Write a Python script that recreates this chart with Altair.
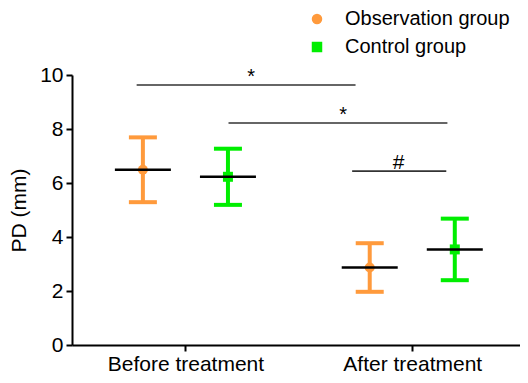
import altair as alt
import pandas as pd

categories = ["Before treatment", "After treatment"]
groups = ["Observation group", "Control group"]
obs_mean = [6.49, 2.87]
obs_sd = [1.20, 0.90]
ctrl_mean = [6.23, 3.54]
ctrl_sd = [1.04, 1.14]
cat_pos = [1, 3]
group_offset = [-0.375, 0.375]
colors = ["#FF9A3C", "#00EE00"]
shapes = ["circle", "square"]

bracket_start = [0.57, 1.38, 2.47]
bracket_end = [2.50, 3.31, 3.30]
bracket_y = [9.63, 8.22, 6.44]
bracket_label = ["*", "*", "#"]
bracket_label_x = [1.58, 2.39, 2.88]
bracket_font = [20, 20, 21]

means = [obs_mean, ctrl_mean]
sds = [obs_sd, ctrl_sd]
rows = []
for ci, cat in enumerate(categories):
    for gi, grp in enumerate(groups):
        m = means[gi][ci]
        s = sds[gi][ci]
        rows.append({
            "category": cat,
            "group": grp,
            "x": cat_pos[ci] + group_offset[gi],
            "mean": m,
            "lo": m - s,
            "hi": m + s,
        })
df = pd.DataFrame(rows)

br = pd.DataFrame({
    "xs": bracket_start,
    "xe": bracket_end,
    "y": bracket_y,
    "label": bracket_label,
    "lx": bracket_label_x,
    "fs": bracket_font,
})

FONT = "Liberation Sans"
xscale = alt.Scale(domain=[0, 3.95], nice=False, zero=False)
yscale = alt.Scale(domain=[0, 10], nice=False)

label_expr = f"datum.value == {cat_pos[0]} ? '{categories[0]}' : '{categories[1]}'"
x_enc = alt.X("x:Q", scale=xscale,
              axis=alt.Axis(values=cat_pos, labelExpr=label_expr, title=None,
                            labelPadding=2, labelFlush=False))
y_axis = alt.Axis(values=[0, 2, 4, 6, 8, 10], title="PD (mm)", titlePadding=10,
                  labelPadding=3)

color_scale = alt.Scale(domain=groups, range=colors)
shape_scale = alt.Scale(domain=groups, range=shapes)

base = alt.Chart(df)

layers = []
for gi, grp in enumerate(groups):
    gbase = base.transform_filter(alt.datum.group == grp)
    layers.append(gbase.mark_rule(strokeWidth=4, color=colors[gi], opacity=1).encode(
        x=x_enc,
        y=alt.Y("lo:Q", scale=yscale, axis=y_axis),
        y2="hi:Q",
    ))
    layers.append(gbase.mark_tick(orient="horizontal", size=28, thickness=4,
                                  color=colors[gi], opacity=1).encode(
        x=x_enc,
        y=alt.Y("hi:Q", scale=yscale),
    ))
    layers.append(gbase.mark_tick(orient="horizontal", size=28, thickness=4,
                                  color=colors[gi], opacity=1).encode(
        x=x_enc,
        y=alt.Y("lo:Q", scale=yscale),
    ))

pts = base.mark_point(filled=True, opacity=1, size=100).encode(
    x=x_enc,
    y=alt.Y("mean:Q", scale=yscale),
    color=alt.Color("group:N", scale=color_scale, title=None),
    shape=alt.Shape("group:N", scale=shape_scale, title=None),
)
mean_line = base.mark_tick(orient="horizontal", size=56, thickness=2.5,
                           color="black", opacity=1).encode(
    x=x_enc,
    y=alt.Y("mean:Q", scale=yscale),
)

brk = alt.Chart(br)
br_lines = brk.mark_rule(strokeWidth=1.6, color="#333333").encode(
    x=alt.X("xs:Q", scale=xscale),
    x2="xe:Q",
    y=alt.Y("y:Q", scale=yscale),
)
br_text = brk.mark_text(baseline="alphabetic", dy=-2, font=FONT,
                        color="black").encode(
    x=alt.X("lx:Q", scale=xscale),
    y=alt.Y("y:Q", scale=yscale),
    text="label:N",
    size=alt.Size("fs:Q", scale=None, legend=None),
)

chart = alt.layer(*layers, pts, mean_line, br_lines, br_text).properties(
    width=448,
    height=270,
    autosize=alt.AutoSizeParams(type="none"),
    padding={"left": 64, "top": 67, "right": 0, "bottom": 30},
).configure(
    font=FONT,
).configure_view(
    strokeWidth=0,
).configure_axis(
    domainColor="black",
    domainWidth=2,
    tickColor="black",
    tickWidth=2,
    tickSize=6,
    labelFontSize=21,
    labelColor="black",
    labelFont=FONT,
    titleFont=FONT,
    titleFontSize=21,
    titleColor="black",
    titleFontWeight="normal",
    grid=False,
).configure_legend(
    orient="none",
    legendX=235,
    legendY=-66,
    labelFontSize=20,
    labelFont=FONT,
    labelColor="black",
    labelLimit=400,
    symbolSize=110,
    labelOffset=18,
    rowPadding=8,
    symbolStrokeWidth=0,
)

chart.save("out.html", embed_options={"renderer": "svg", "actions": False})
